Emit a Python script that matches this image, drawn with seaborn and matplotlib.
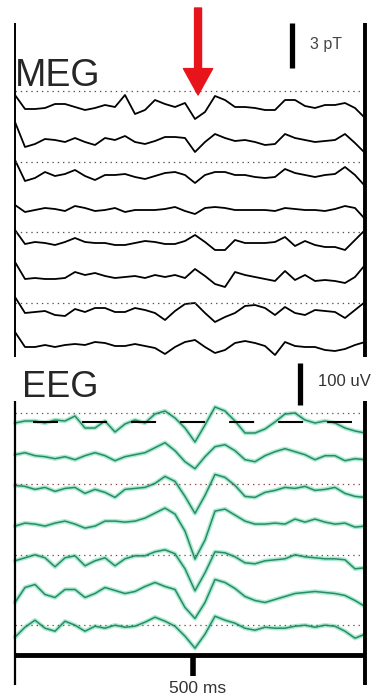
import numpy as np
import pandas as pd
import seaborn as sns
import matplotlib.pyplot as plt

sns.set_style('white')
plt.rcParams['font.family'] = ['Liberation Sans', 'DejaVu Sans']
plt.rcParams['lines.scale_dashes'] = False

# time axis (ms), 36 samples over the 1000 ms window
t = np.linspace(0, 1000, 36)

# MEG channels: deflection from each channel's baseline (display units, 45 = 3 pT)
meg1 = [12, -2, -2, -1, 3, 3, 0, -3, -1, 2, 0, 12, -7, -3, 7, 3, 0, 4, -12, -5, 11, 7, 0, 0, -1, -3, -3, 7, 7, 1, -1, 2, 2, 4, -1, -11]
meg2 = [19, -6, -3, 2, 1, -1, 3, -1, -4, 3, 1, 5, -1, -3, 0, 4, 4, 3, -11, -1, 7, 3, 0, 1, -1, -4, -3, 7, 3, 1, -1, 0, 1, 7, -2, -12]
meg3 = [15, -6, -3, 3, -1, 1, 5, -1, -5, 0, 0, 1, -2, -4, -1, 2, 3, 0, -8, 0, 3, 3, 0, 0, -2, -3, -2, 6, 2, 0, -2, 0, 1, 8, 0, -11]
meg4 = [4, -3, -1, 1, 0, -2, 3, 1, -2, -1, 1, -3, -1, -1, -1, 0, 2, -2, -5, 1, 2, 1, -1, -1, -1, -1, -2, 1, 0, -1, -1, -2, 0, 3, 1, -10]
meg5 = [13, -1, 1, 0, -2, 1, 5, 1, 0, 0, -2, -2, 0, 2, 1, -1, -1, 2, 8, 1, -7, -7, 3, 0, 0, 0, 1, 6, -3, 2, -2, -4, -4, -7, 3, 13]
meg6 = [15, -2, -1, -2, -2, -1, 5, 2, 4, 1, -1, 0, 1, -1, 2, 0, 2, -1, 8, 1, -7, -10, 5, 2, 0, -2, -4, 6, -3, 2, -4, -3, -4, -6, 0, 12]
meg7 = [14, -2, -1, 0, -4, -5, 2, -1, 3, 3, -1, -1, 3, 1, -2, -9, 0, 7, 8, -2, -11, -6, -2, 5, 6, 3, -4, 4, -2, -4, 1, 0, -1, -7, 1, 9]
meg8 = [13, -2, -2, 0, -2, 0, 1, 0, 3, 2, -1, -1, 1, -1, -3, -9, -2, 3, 5, -2, -8, -5, 2, 4, 2, -1, -10, 3, -1, -2, -2, -5, -6, -4, 0, 3]

# EEG channels: deflection from baseline (display units, 42 = 100 uV)
eeg1 = [0, 2, 2, 0, 3, 2, 7, -5, -5, 2, -9, -1, 3, 0, 9, 12, 5, -5, -19, -2, 16, 12, 2, -10, -10, -6, 1, 9, 10, 3, 0, 2, 0, -5, -8, -10]
eeg2 = [2, 4, 1, 0, -2, 0, -3, 1, 4, 1, -4, 0, 2, 4, 9, 14, 6, -5, -12, 0, 10, 12, 6, -3, -5, 1, 5, 8, 5, 2, -3, 1, 1, -4, -2, -3]
eeg3 = [5, 4, 1, 3, -1, 2, 3, -3, 1, -2, -7, 1, 2, 3, 7, 14, 9, -6, -23, -5, 16, 13, 5, -6, -7, -2, 0, 3, 2, 4, 0, 1, 3, -3, -6, -7]
eeg4 = [-2, 1, 0, -2, 1, 3, 0, -4, -2, 3, 3, 2, 3, 6, 11, 16, 10, -7, -35, -16, 13, 15, 9, 3, 0, 0, 1, 0, 5, 2, 5, 2, 0, 1, -3, -2]
eeg5 = [-3, 0, 3, 0, -9, 0, 2, -8, -3, 0, -8, -1, 2, 2, 6, 8, 4, -11, -33, -15, 6, 5, 1, -5, -6, -3, -2, -1, 3, 1, 0, -1, -1, -2, -11, -10]
eeg6 = [-11, 4, 7, -3, -6, 2, 2, -6, -2, 4, 1, -2, 0, 5, 9, 5, 2, -16, -27, -11, 12, 9, 3, -5, -9, -11, -8, -5, -2, -1, 0, -1, -2, -4, -9, -15]
eeg7 = [-12, -2, 5, -3, -6, 4, 0, -6, -1, -3, 0, -2, -1, 3, 8, 4, -1, -11, -23, -9, 9, 5, 2, -3, -5, -2, -3, -3, -1, 0, -2, 0, -1, -6, -13, -9]

meg = [meg1, meg2, meg3, meg4, meg5, meg6, meg7, meg8]
eeg = [eeg1, eeg2, eeg3, eeg4, eeg5, eeg6, eeg7]


def stack(traces, top, gap):
    rows = []
    for i, tr in enumerate(traces):
        base = top + gap * i
        for tt, v in zip(t, tr):
            rows.append({'ch': i, 't': tt, 'y': base - v})
    return pd.DataFrame(rows)


df_meg = stack(meg, 107, 34)
df_eeg = stack(eeg, 423, 33.7)

fig = plt.figure(figsize=(3.79, 6.98), dpi=100)
ax = fig.add_axes([0, 0, 1, 1])

sns.lineplot(data=df_meg, x='t', y='y', units='ch', estimator=None, sort=False,
             color='black', lw=1.3, ax=ax, legend=False)
sns.lineplot(data=df_eeg, x='t', y='y', units='ch', estimator=None, sort=False,
             color='#8ee6c4', lw=3.2, alpha=0.75, ax=ax, legend=False)
sns.lineplot(data=df_eeg, x='t', y='y', units='ch', estimator=None, sort=False,
             color='#2c8a66', lw=1.1, ax=ax, legend=False)

# dotted reference lines
ax.hlines([91 + 70.5 * k for k in range(4)], 0, 1000, colors='#555555', lw=0.9, linestyles=(0, (1, 2.8)))
ax.hlines([413 + 70.8 * k for k in range(4)], 0, 1000, colors='#8b4b4b', lw=0.9, linestyles=(0, (1, 2.8)))
ax.hlines(422, 51, 963, colors='black', lw=1.5, linestyles=(0, (18, 17.3)))

# frames
ax.vlines(0, 23, 357, colors='black', lw=1.4)
ax.vlines(1000, 23, 357, colors='black', lw=2.8)
ax.vlines(0, 401, 685, colors='black', lw=1.6)
ax.vlines(1000, 401, 685, colors='black', lw=2.8)
ax.hlines(655, 0, 1000, colors='black', lw=3.5)
ax.vlines(509, 655, 676, colors='black', lw=4)

# scale bars
ax.vlines(791, 23, 68, colors='black', lw=3.8)
ax.vlines(814, 363, 405, colors='black', lw=3.8)
ax.text(843, 44, '3 pT', fontsize=11.5, color='#444444', va='center', ha='left')
ax.text(866, 381, '100 uV', fontsize=12, color='#333333', va='center', ha='left')
ax.text(523, 693, '500 ms', fontsize=12.5, color='#333333', va='baseline', ha='center')

ax.text(0, 86, 'MEG', fontsize=27, va='baseline', ha='left')
ax.text(20, 397, 'EEG', fontsize=26, va='baseline', ha='left')

# stimulus arrow
ax.annotate('', xy=(523, 95), xytext=(523, 8),
            arrowprops=dict(arrowstyle='simple,head_width=21,head_length=19,tail_width=5',
                            mutation_scale=1, color='#e8141c', shrinkA=0, shrinkB=0))

ax.set_xlim(-15 / 0.35, (379 - 15) / 0.35)
ax.set_ylim(698, 0)
ax.axis('off')

fig.savefig('out.png', dpi=100)
